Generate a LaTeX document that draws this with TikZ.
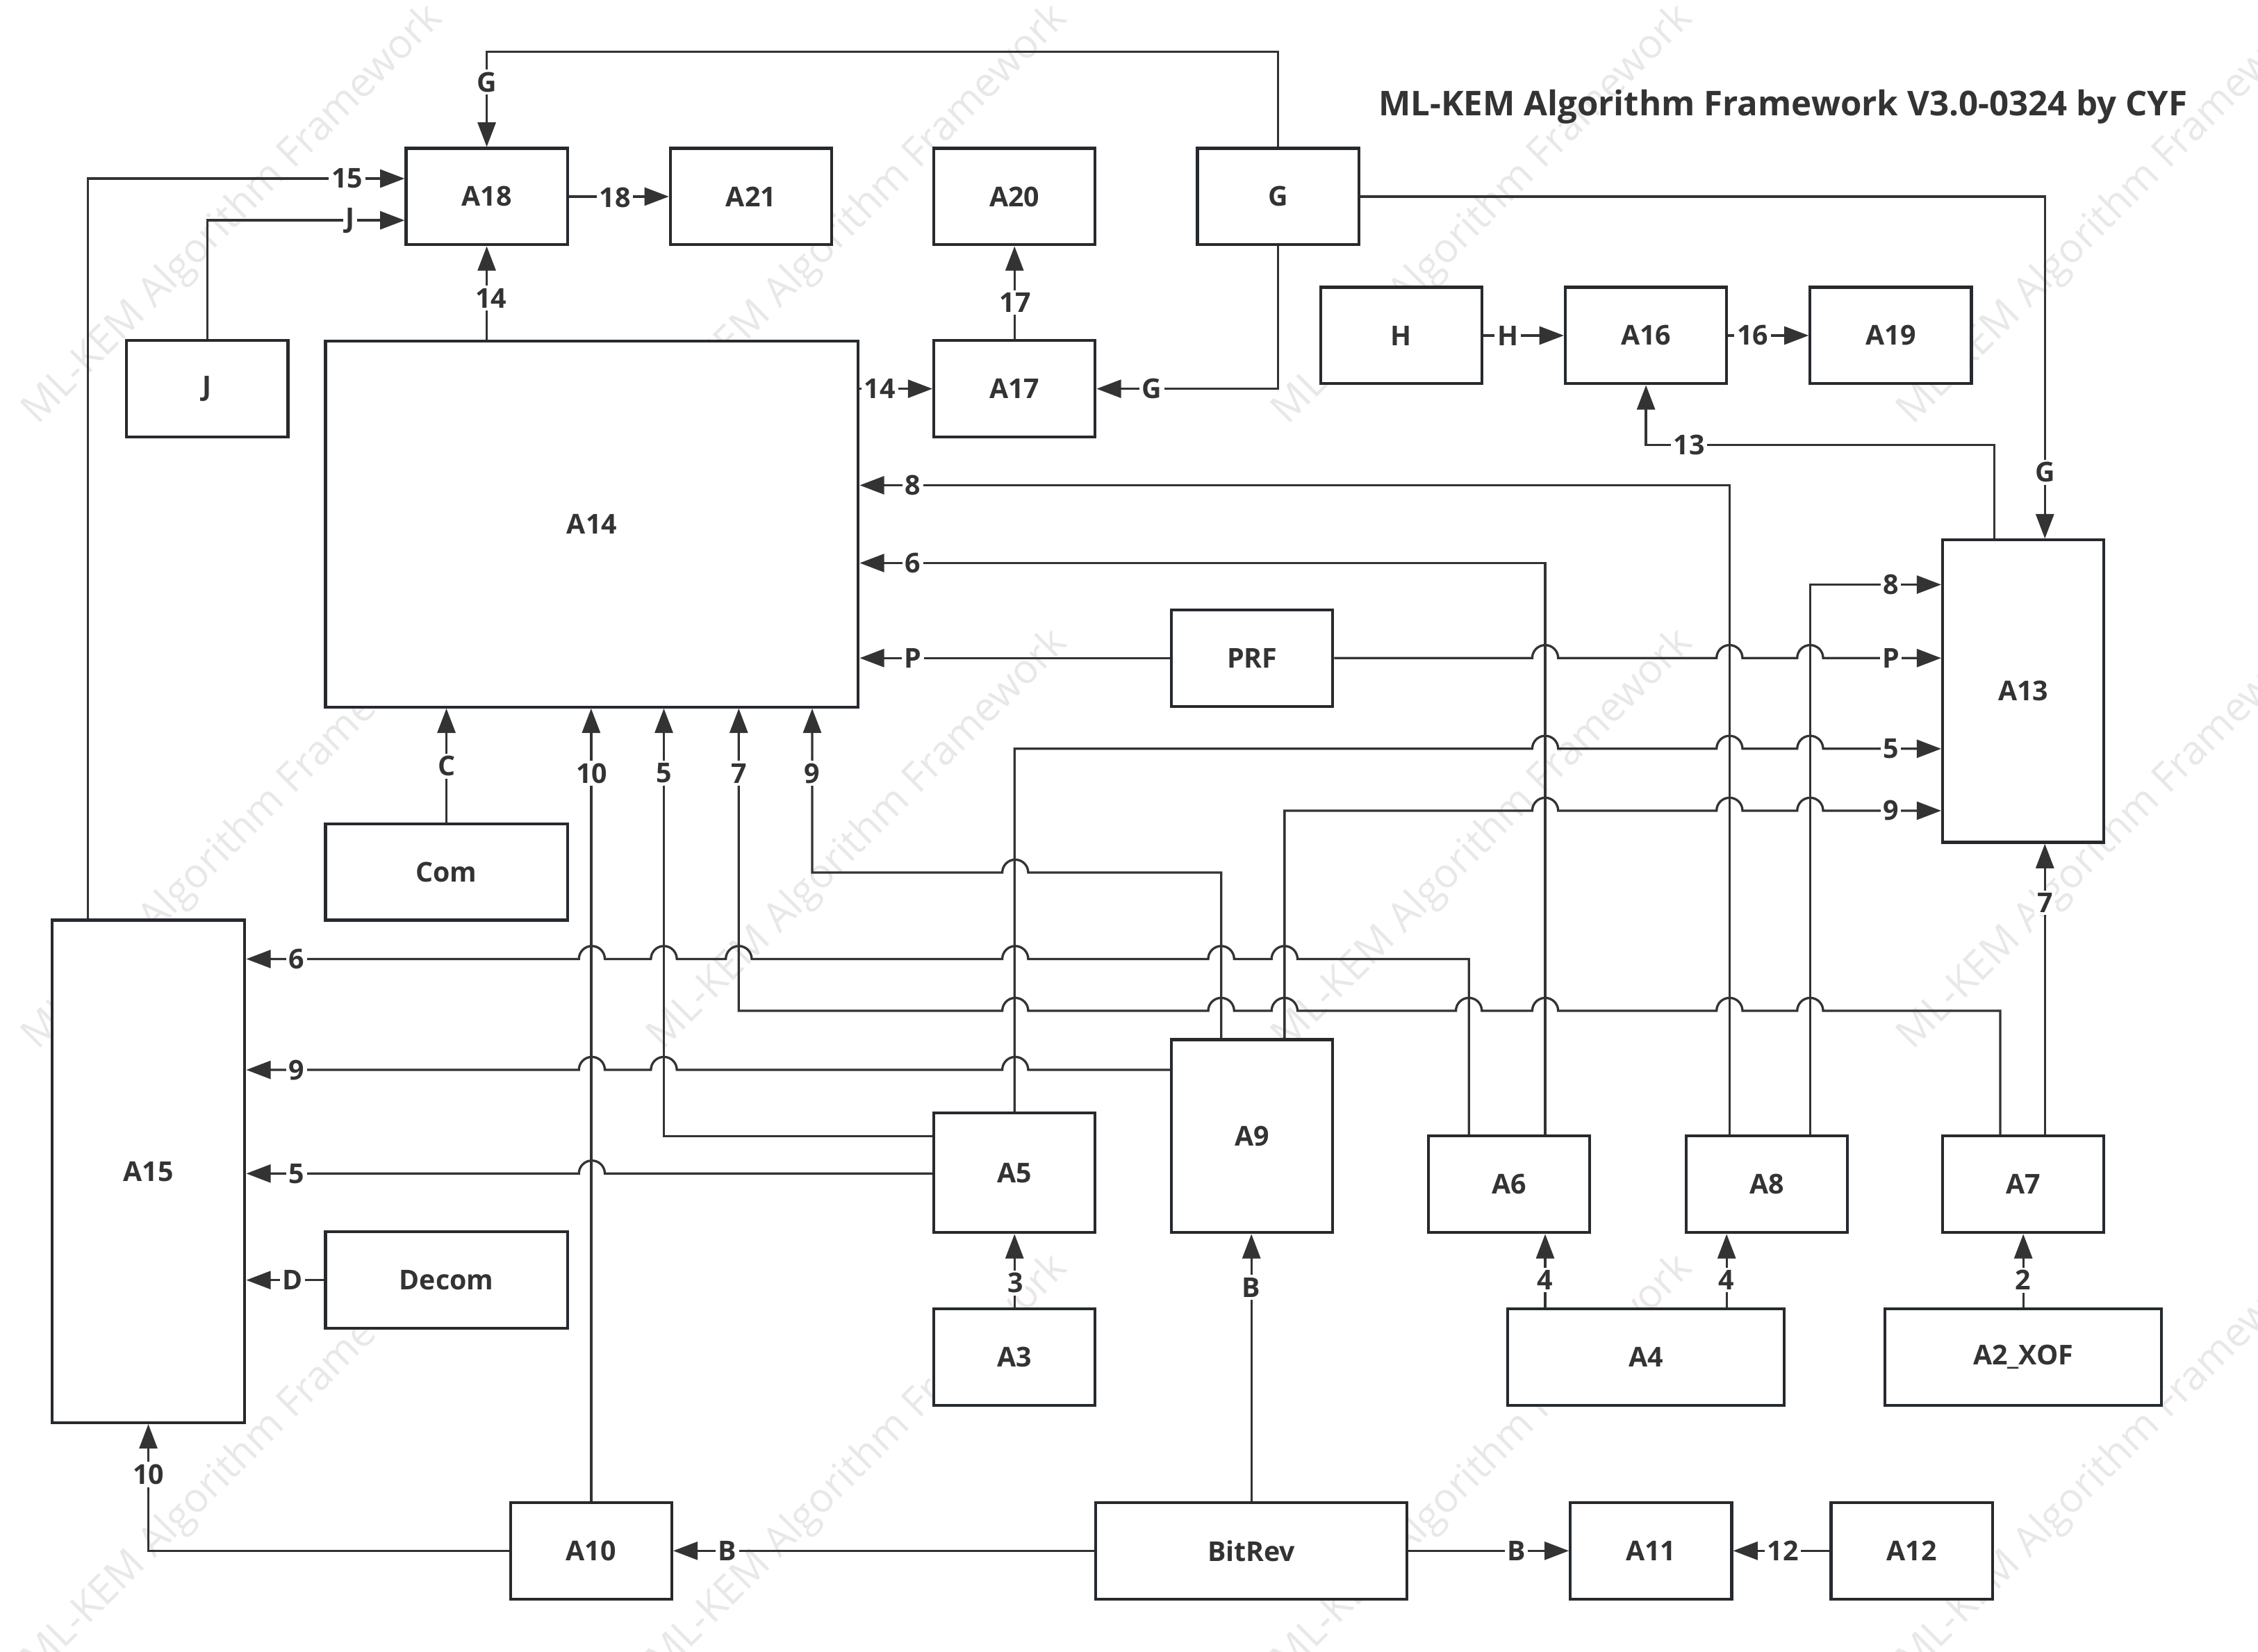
\documentclass[tikz,border=0pt]{standalone}
\usepackage{fontspec}
\setmainfont{Open Sans}
\usetikzlibrary{arrows.meta}

\definecolor{ink}{HTML}{333333}
\definecolor{frame}{HTML}{262A2E}

% line hops (radius 9 units)
\newcommand{\hopr}[2]{-- ({#1-9},#2) arc[start angle=180,end angle=0,radius=1.8mm]}
\newcommand{\hopl}[2]{-- ({#1+9},#2) arc[start angle=0,end angle=180,radius=1.8mm]}

\tikzset{
  blk/.style={draw=frame, fill=white, line width=0.4mm, minimum width=22.4mm, minimum height=13.4mm,
    inner sep=0pt, text=ink, font=\fontsize{10.8}{12}\selectfont\bfseries},
  lbl/.style={fill=white, inner sep=1pt, text=ink, font=\fontsize{10.8}{12}\selectfont\bfseries},
  arr/.style={draw=ink, line width=0.32mm, -{Triangle[length=3.4mm,width=2.5mm]}},
  wmark/.style={rotate=45, anchor=base west, text=black, text opacity=0.09, font=\fontsize{16}{18}\selectfont},
}

\begin{document}
\begin{tikzpicture}[x=0.2mm, y=-0.2mm]
        \useasboundingbox (0,0) rectangle (1568,1147);
        % Watermark
        \begin{scope}
          \clip (0,0) rectangle (1568,1147);
          \foreach \i in {0,...,3}
            \foreach \j in {0,1,2}
              \node[wmark] (wm\i\j) at ({22+434*\i},{300+434*\j}) {ML-KEM Algorithm Framework};
        \end{scope}
        \node[text=ink, font=\fontsize{13.5}{15}\selectfont\bfseries] (title) at (1238,74) {ML-KEM Algorithm Framework V3.0-0324 by CYF};

        % Nodes (top to bottom)
        \node[blk] (A18) at (338,136.5) {A18};
        \node[blk] (A21) at (521.5,136.5) {A21};
        \node[blk] (A20) at (704.5,136.5) {A20};
        \node[blk] (G) at (887.5,136.5) {G};
        \node[blk] (H) at (973,233) {H};
        \node[blk] (A16) at (1143,233) {A16};
        \node[blk] (A19) at (1313,233) {A19};
        \node[blk] (J) at (144,270) {J};
        \node[blk, minimum width=74mm, minimum height=50.8mm] (A14) at (411,364) {A14};
        \node[blk] (A17) at (704.5,270) {A17};
        \node[blk, minimum height=42mm] (A13) at (1405,480) {A13};
        \node[blk] (PRF) at (869.5,457) {PRF};
        \node[blk, minimum width=33.6mm] (Com) at (310,605.5) {Com};
        \node[blk, minimum width=26.8mm, minimum height=69.8mm] (A15) at (103,813.5) {A15};
        \node[blk, minimum width=33.6mm] (Decom) at (310,889) {Decom};
        \node[blk, minimum height=26.8mm] (A9) at (869.5,789) {A9};
        \node[blk, minimum height=16.6mm] (A5) at (704.5,814.5) {A5};
        \node[blk] (A6) at (1048,822.5) {A6};
        \node[blk] (A8) at (1227,822.5) {A8};
        \node[blk] (A7) at (1405,822.5) {A7};
        \node[blk] (A3) at (704.5,942.5) {A3};
        \node[blk, minimum width=38.4mm] (A4) at (1143,942.5) {A4};
        \node[blk, minimum width=38.4mm] (A2XOF) at (1405,942.5) {A2\_XOF};
        \node[blk] (A10) at (410.5,1077) {A10};
        \node[blk, minimum width=43.2mm] (BitRev) at (869,1077) {BitRev};
        \node[blk] (A11) at (1146.5,1077) {A11};
        \node[blk] (A12) at (1327.5,1077) {A12};

        % Edges, top part
        \draw[arr] (G.north) -- (G.north |- 0,36) -| (A18.north);
        \draw[arr] (A15.north -| 61,0) |- (A18.west |- 0,124);
        \draw[arr] (J.north) |- (A18.west |- 0,153);
        \draw[arr] (A18) -- (A21);
        \draw[arr] (A14.north -| A18.south) -- (A18.south);
        \draw[arr] (A17) -- (A20);
        \draw[arr] (A14.east |- A17) -- (A17.west);
        \draw[arr] (G.south) |- (A17.east);
        \draw[arr] (G.east) -| (A13.north -| 1420,0);
        \draw[arr] (H) -- (A16);
        \draw[arr] (A16) -- (A19);
        \draw[arr] (A13.north -| 1385,0) |- (A16.south |- 0,309) -- (A16.south);

        % Edges into A14 and A13
        \draw[arr] (A8.north -| 1201,0) |- (A14.east |- 0,337);
        \draw[arr] (A6.north -| 1073,0) |- (A14.east |- 0,391);
        \draw[arr] (PRF.west) -- (A14.east |- PRF);
        \draw[arr] (PRF.east) \hopr{1073}{457} \hopr{1201}{457} \hopr{1257}{457} -- (A13.west |- PRF);
        \draw[arr] (A5.north) -- (A5.north |- 0,520) \hopr{1073}{520} \hopr{1201}{520} \hopr{1257}{520} -- (A13.west |- 0,520);
        \draw[arr] (A9.north -| 892,0) -- (892,563) \hopr{1073}{563} \hopr{1201}{563} \hopr{1257}{563} -- (A13.west |- 0,563);
        \draw[arr] (A8.north -| 1257,0) |- (A13.west |- 0,406);
        \draw[arr] (A7.north -| 1420,0) -- (A13.south -| 1420,0);
        \draw[arr] (Com.north) -- (Com.north |- A14.south);
        \draw[arr] (A10.north) -- (A10.north |- A14.south);
        \draw[arr] (A5.west |- 0,789) -| (A14.south -| 461,0);
        \draw[arr] (A7.north -| 1389,0) -- (1389,702) \hopl{1257}{702} \hopl{1201}{702} \hopl{1073}{702} \hopl{1020}{702}
          \hopl{892}{702} \hopl{848}{702} \hopl{705}{702} -- (513,702) -- (A14.south -| 513,0);
        \draw[arr] (A9.north -| 848,0) -- (848,606) \hopl{705}{606} -- (564,606) -- (A14.south -| 564,0);

        % Edges into A15
        \draw[arr] (A6.north -| 1020,0) -- (1020,666) \hopl{892}{666} \hopl{848}{666} \hopl{705}{666} \hopl{513}{666}
          \hopl{461}{666} \hopl{411}{666} -- (A15.east |- 0,666);
        \draw[arr] (A9.west |- 0,743) \hopl{705}{743} \hopl{461}{743} \hopl{411}{743} -- (A15.east |- 0,743);
        \draw[arr] (A5.west |- 0,815) \hopl{411}{815} -- (A15.east |- 0,815);
        \draw[arr] (Decom) -- (A15.east |- Decom);
        \draw[arr] (A10.west) -| (A15.south);

        % Edges, bottom part
        \draw[arr] (BitRev) -- (A10);
        \draw[arr] (BitRev) -- (A11);
        \draw[arr] (A12) -- (A11);
        \draw[arr] (BitRev.north) -- (BitRev.north |- A9.south);
        \draw[arr] (A3) -- (A5);
        \draw[arr] (A4.north -| 1073,0) -- (A6.south -| 1073,0);
        \draw[arr] (A4.north -| 1199,0) -- (A8.south -| 1199,0);
        \draw[arr] (A2XOF) -- (A7);

        % Edge labels
        \node[lbl] (lG1) at (338,57) {G};
        \node[lbl] (l15) at (241,124) {15};
        \node[lbl] (lJ) at (243,153) {J};
        \node[lbl] (l18) at (427,137) {18};
        \node[lbl] (l14a) at (341,207) {14};
        \node[lbl] (l17) at (705,210) {17};
        \node[lbl] (l14b) at (611,270) {14};
        \node[lbl] (lG2) at (800,270) {G};
        \node[lbl] (lG3) at (1420,328) {G};
        \node[lbl] (lH) at (1047,233) {H};
        \node[lbl] (l16) at (1217,233) {16};
        \node[lbl] (l13) at (1173,309) {13};
        \node[lbl] (l8a) at (634,337) {8};
        \node[lbl] (l6a) at (634,391) {6};
        \node[lbl] (lPa) at (634,457) {P};
        \node[lbl] (l8b) at (1313,406) {8};
        \node[lbl] (lPb) at (1313,457) {P};
        \node[lbl] (l5a) at (1313,520) {5};
        \node[lbl] (l9a) at (1313,563) {9};
        \node[lbl] (l7a) at (1420,627) {7};
        \node[lbl] (lC) at (310,532) {C};
        \node[lbl] (l10a) at (411,537) {10};
        \node[lbl] (l5b) at (461,537) {5};
        \node[lbl] (l7b) at (513,537) {7};
        \node[lbl] (l9b) at (564,537) {9};
        \node[lbl] (l6b) at (206,666) {6};
        \node[lbl] (l9c) at (206,743) {9};
        \node[lbl] (l5c) at (206,815) {5};
        \node[lbl] (lD) at (203,889) {D};
        \node[lbl] (l10b) at (103,1024) {10};
        \node[lbl] (lBa) at (505,1077) {B};
        \node[lbl] (lBb) at (1053,1077) {B};
        \node[lbl] (l12) at (1238,1077) {12};
        \node[lbl] (lBc) at (869,894) {B};
        \node[lbl] (l3) at (705,891) {3};
        \node[lbl] (l4a) at (1073,889) {4};
        \node[lbl] (l4b) at (1199,889) {4};
        \node[lbl] (l2) at (1405,889) {2};
      \end{tikzpicture}
\end{document}
